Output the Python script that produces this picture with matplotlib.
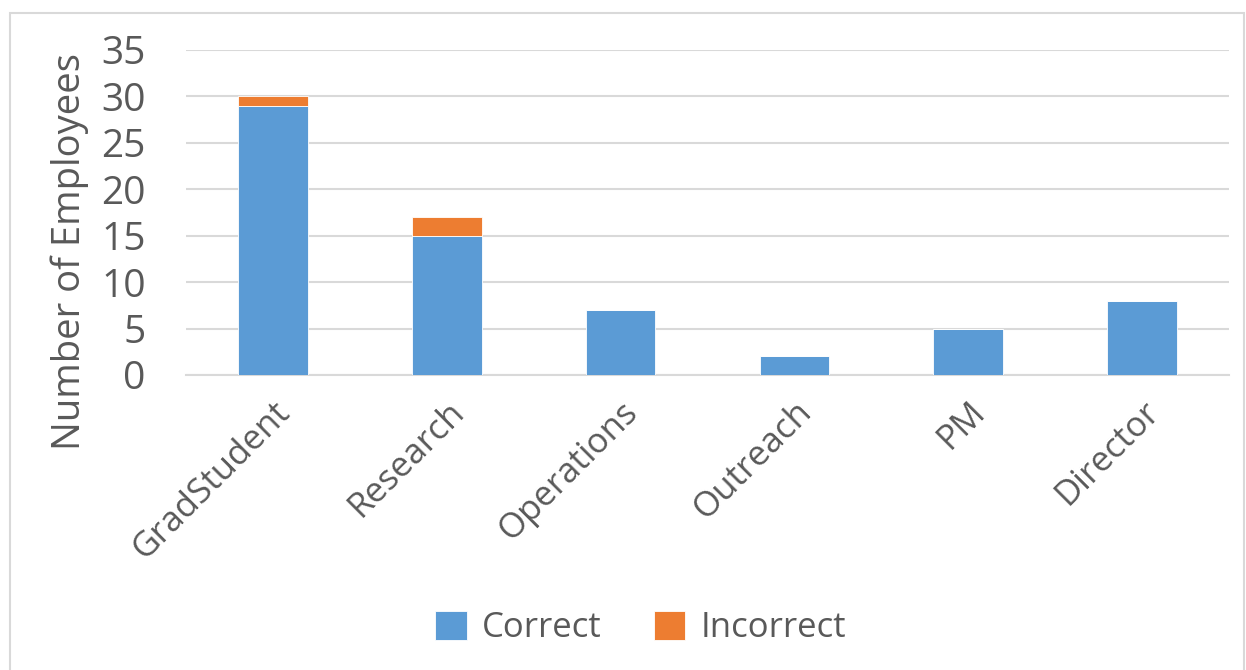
import matplotlib
matplotlib.use("Agg")
import matplotlib.pyplot as plt
from matplotlib.patches import Rectangle
import numpy as np

categories = ["GradStudent", "Research", "Operations", "Outreach", "PM", "Director"]
correct = [29, 15, 7, 2, 5, 8]
incorrect = [1, 2, 0, 0, 0, 0]

blue = "#5B9BD5"
orange = "#ED7D31"
text_grey = "#595959"

plt.rcParams['font.family'] = ['Open Sans', 'DejaVu Sans']

fig = plt.figure(figsize=(12.46, 6.70), dpi=100)
ax = fig.add_axes([186 / 1246, 1 - 375 / 670, (1229 - 186) / 1246, (375 - 50) / 670])

x = np.arange(len(categories))
ax.bar(x, correct, width=0.4, color=blue, edgecolor="white", linewidth=0.6, label="Correct", zorder=3)
ax.bar(x, incorrect, width=0.4, bottom=correct, color=orange, edgecolor="white", linewidth=0.6,
       label="Incorrect", zorder=3)

ax.set_xlim(-0.5, len(categories) - 0.5)
ax.set_ylim(0, 35)
ax.set_yticks(range(0, 36, 5))
ax.yaxis.grid(True, color="#d9d9d9", linewidth=1.5, zorder=0)
ax.set_axisbelow(True)
for s in ["top", "right", "left"]:
    ax.spines[s].set_visible(False)
ax.spines["bottom"].set_color("#d9d9d9")
ax.spines["bottom"].set_linewidth(1.5)
ax.tick_params(axis="both", length=0, colors=text_grey)
ax.tick_params(axis="y", labelsize=28, pad=29)
ax.set_xticks(x)
ax.set_xticklabels(categories, rotation=45, ha="right", rotation_mode="anchor", fontsize=25)
ax.tick_params(axis="x", pad=14)

fig.text(70 / 1246, 1 - 252 / 670, "Number of Employees", rotation=90, ha="center", va="center",
         fontsize=27.5, color=text_grey)

leg = fig.legend(loc="center", bbox_to_anchor=(641 / 1246, 1 - 628 / 670), ncol=2, frameon=False,
                 fontsize=25, handlelength=0.9, handleheight=0.9, handletextpad=0.45, columnspacing=1.5)
for t in leg.get_texts():
    t.set_color(text_grey)

fig.patches.append(Rectangle((10 / 1246, -0.05), 1234 / 1246, 1.05 - 13 / 670, transform=fig.transFigure,
                             fill=False, edgecolor="#d9d9d9", linewidth=1.5))

fig.savefig("out.png", dpi=100)
